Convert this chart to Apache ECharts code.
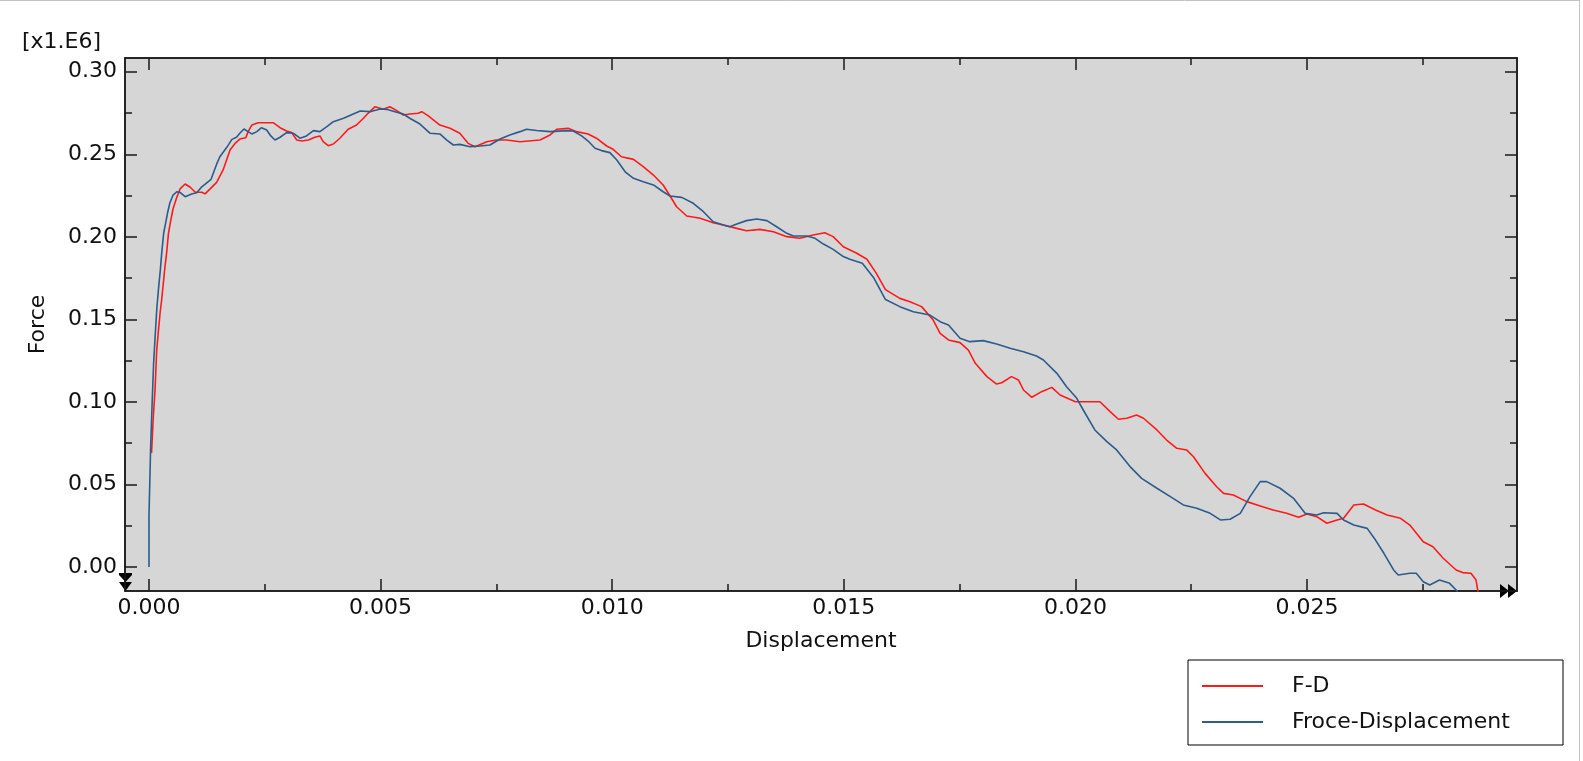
<!DOCTYPE html>
<html>
<head>
<meta charset="utf-8">
<script src="https://cdn.jsdelivr.net/npm/echarts@6/dist/echarts.min.js"></script>
<style>
html,body{margin:0;padding:0;background:#fff;}
#chart{width:1583px;height:761px;}
</style>
</head>
<body>
<div id="chart"></div>
<script>
// ---- data (force in units of 1.E6) ----
const seriesNames = ['F-D', 'Froce-Displacement'];

const fdX = [0.000055,0.000093,0.00013,0.000166,0.0002,0.00024,0.000274,0.00031,0.000345,0.00038,0.00042,0.00047,0.00052,0.0006,0.00067,0.00078,0.00089,0.001,0.00114,0.00121,0.00132,0.00146,0.0016,0.00175,0.00186,0.00196,0.00209,0.00214,0.00222,0.00236,0.00268,0.00283,0.00297,0.00308,0.00319,0.0033,0.00344,0.00358,0.00369,0.00376,0.00387,0.00398,0.00412,0.0043,0.00448,0.00463,0.00473,0.00488,0.00506,0.0052,0.00535,0.00549,0.00563,0.00581,0.00589,0.00603,0.00628,0.0065,0.00671,0.00689,0.00704,0.00729,0.0075,0.00772,0.00801,0.00844,0.00866,0.0088,0.00905,0.00923,0.00948,0.00966,0.00988,0.01002,0.0102,0.01046,0.01067,0.01089,0.0111,0.01125,0.01139,0.01161,0.0119,0.01218,0.0124,0.01269,0.0129,0.01319,0.01348,0.01377,0.01405,0.01434,0.01459,0.01477,0.01499,0.01528,0.0155,0.0157,0.0159,0.01621,0.01643,0.01668,0.01693,0.01708,0.01726,0.01751,0.01769,0.01784,0.01809,0.0183,0.01841,0.01862,0.01877,0.01888,0.01906,0.01927,0.01949,0.01967,0.02,0.02053,0.02075,0.02093,0.02111,0.02132,0.02147,0.02176,0.02197,0.02219,0.0224,0.02255,0.0228,0.02305,0.0232,0.02341,0.0237,0.02399,0.02427,0.02456,0.02482,0.025,0.02521,0.02543,0.02565,0.02579,0.02601,0.02622,0.02648,0.02673,0.02702,0.02722,0.02751,0.02772,0.02794,0.02822,0.02836,0.02854,0.02865,0.02875];
const fdY = [0.069,0.091,0.107,0.131,0.142,0.154,0.162,0.172,0.182,0.190,0.202,0.210,0.217,0.224,0.229,0.232,0.230,0.227,0.227,0.226,0.229,0.233,0.2405,0.2526,0.2566,0.2592,0.260,0.2637,0.2677,0.2691,0.2691,0.2661,0.2641,0.2631,0.2586,0.258,0.2586,0.2603,0.2611,0.2576,0.2552,0.2562,0.2597,0.2651,0.2677,0.2718,0.2748,0.2788,0.2772,0.2788,0.2764,0.2738,0.2744,0.2748,0.2758,0.2732,0.2677,0.2657,0.2627,0.2566,0.2546,0.2576,0.2586,0.2586,0.2576,0.2586,0.2617,0.2651,0.2657,0.2637,0.2623,0.2597,0.255,0.253,0.2485,0.2469,0.2425,0.2374,0.2314,0.2247,0.2182,0.2126,0.2112,0.2085,0.2071,0.2051,0.2037,0.2045,0.2031,0.2001,0.1991,0.2011,0.2025,0.2001,0.194,0.190,0.1864,0.178,0.168,0.1627,0.1607,0.1577,0.1496,0.1415,0.1375,0.1359,0.1314,0.1234,0.1153,0.1108,0.1116,0.1153,0.1133,0.1072,0.1028,0.1062,0.1088,0.1042,0.1001,0.1001,0.0941,0.0895,0.0901,0.0921,0.0901,0.083,0.0769,0.0719,0.0709,0.0668,0.0567,0.0486,0.0446,0.0436,0.0396,0.037,0.0345,0.0325,0.0301,0.0321,0.0305,0.0265,0.0285,0.0295,0.0376,0.0382,0.0345,0.0315,0.0295,0.0254,0.0153,0.0123,0.0053,-0.0018,-0.0034,-0.0038,-0.0079,-0.025];

const fcX = [0,0,0.000036,0.000036,0.00007,0.0001,0.000137,0.00017,0.00021,0.000245,0.000274,0.000317,0.00036,0.0004,0.00045,0.00052,0.0006,0.00067,0.00078,0.00092,0.00103,0.00114,0.00134,0.00146,0.00153,0.00168,0.00179,0.00189,0.00196,0.00205,0.00214,0.00222,0.00233,0.00243,0.00254,0.00263,0.00272,0.00283,0.00297,0.00312,0.00326,0.0034,0.00355,0.00369,0.00384,0.00398,0.0042,0.00441,0.00456,0.00477,0.00499,0.00513,0.00531,0.00549,0.00563,0.00585,0.00607,0.00628,0.00643,0.00657,0.00671,0.00693,0.00715,0.00736,0.00758,0.00779,0.00801,0.00815,0.00837,0.00866,0.00902,0.00916,0.00934,0.00948,0.00963,0.00977,0.00995,0.0101,0.01028,0.01046,0.01067,0.01089,0.0111,0.01125,0.0115,0.01175,0.01197,0.01218,0.0124,0.01254,0.01269,0.0129,0.01312,0.01334,0.01355,0.01377,0.01391,0.0142,0.01438,0.01456,0.01477,0.01499,0.01513,0.0154,0.01565,0.0159,0.01621,0.0165,0.01686,0.01708,0.01726,0.01751,0.01772,0.01801,0.0183,0.01859,0.01888,0.01916,0.01931,0.0196,0.01981,0.02003,0.02017,0.02042,0.02068,0.02089,0.02118,0.02143,0.02176,0.02205,0.02233,0.02262,0.02291,0.02313,0.02334,0.02356,0.02377,0.02399,0.02413,0.02442,0.02471,0.02496,0.02521,0.02536,0.02565,0.02579,0.02601,0.0263,0.02648,0.02666,0.02687,0.02697,0.02722,0.02736,0.02751,0.02765,0.02786,0.02808,0.02824,0.0283];
const fcY = [0,0.0315,0.0315,0.073,0.101,0.1235,0.1417,0.157,0.170,0.180,0.190,0.2023,0.2084,0.2144,0.2205,0.2253,0.2273,0.2269,0.2243,0.2259,0.2267,0.2303,0.2348,0.244,0.2485,0.2542,0.259,0.2603,0.2627,0.2653,0.2637,0.2623,0.2637,0.2661,0.2647,0.2611,0.2586,0.2603,0.2631,0.2627,0.2597,0.2611,0.2643,0.2637,0.2667,0.2697,0.2718,0.2744,0.2762,0.2758,0.2774,0.2772,0.2758,0.2744,0.2718,0.2683,0.2627,0.2623,0.2586,0.2556,0.256,0.2546,0.255,0.2556,0.2592,0.2617,0.2637,0.2651,0.2644,0.2637,0.2643,0.2641,0.2611,0.258,0.2536,0.2522,0.251,0.2465,0.2394,0.2354,0.2334,0.2314,0.2273,0.2247,0.2239,0.2203,0.2152,0.2091,0.2071,0.2061,0.2077,0.2098,0.2108,0.2098,0.2061,0.2021,0.2005,0.2005,0.1991,0.1956,0.1924,0.188,0.1864,0.184,0.175,0.162,0.1577,0.1546,0.1526,0.1486,0.1466,0.1385,0.1365,0.1371,0.1351,0.1325,0.1304,0.1278,0.1254,0.1173,0.1092,0.1022,0.0951,0.083,0.0759,0.0709,0.0608,0.0537,0.0477,0.0426,0.0376,0.0356,0.0325,0.0285,0.0289,0.0325,0.0426,0.0517,0.0517,0.0477,0.0416,0.0325,0.0315,0.0329,0.0325,0.0285,0.0254,0.0234,0.0163,0.0083,-0.0018,-0.0048,-0.0038,-0.0038,-0.0089,-0.0109,-0.0079,-0.0099,-0.0145,-0.02];

// ---- tick values ----
const xMajorTicks = [0, 0.005, 0.010, 0.015, 0.020, 0.025];
const xMinorTicks = [0.0025, 0.0075, 0.0125, 0.0175, 0.0225, 0.0275];
const yMajorTicks = [0, 0.05, 0.10, 0.15, 0.20, 0.25, 0.30];
const yMinorTicks = [0.025, 0.075, 0.125, 0.175, 0.225, 0.275];

const X_MIN = -0.000518, X_MAX = 0.029534;
const Y_MIN = -0.014537, Y_MAX = 0.3083;
const FONT = 'DejaVu Sans';
const AX = '#1a1a1a';

function pairs(xs, ys){ return xs.map((x,i)=>[x, ys[i]]); }

function xAxisDef(pos, ticks, len, main){
  return {
    type:'value', position:pos, min:X_MIN, max:X_MAX,
    splitLine:{show:false},
    axisLine:{show:main, onZero:false, lineStyle:{color:AX, width:1.5}},
    axisTick:{show:true, inside:true, length:len, customValues:ticks, lineStyle:{color:AX, width:1.5}},
    axisLabel:{show:main && pos==='bottom', customValues:ticks, margin:6,
      formatter:v=>v.toFixed(3), fontFamily:FONT, fontSize:22, color:'#111'},
    name: (main && pos==='bottom') ? 'Displacement' : '',
    nameLocation:'middle', nameGap:39,
    nameTextStyle:{fontFamily:FONT, fontSize:22, color:'#111'}
  };
}
function yAxisDef(pos, ticks, len, main){
  return {
    type:'value', position:pos, min:Y_MIN, max:Y_MAX,
    splitLine:{show:false},
    axisLine:{show:main, onZero:false, lineStyle:{color:AX, width:1.5}},
    axisTick:{show:true, inside:true, length:len, customValues:ticks, lineStyle:{color:AX, width:1.5}},
    axisLabel:{show:main && pos==='left', customValues:ticks, margin:8,
      formatter:v=>v.toFixed(2), fontFamily:FONT, fontSize:22, color:'#111'},
    name: (main && pos==='left') ? 'Force' : '',
    nameLocation:'middle', nameGap:76,
    nameTextStyle:{fontFamily:FONT, fontSize:22, color:'#111'}
  };
}

const chart = echarts.init(document.getElementById('chart'));
chart.setOption({
  animation:false,
  backgroundColor:'#ffffff',
  grid:{left:125, top:58, width:1392, height:533, show:true, backgroundColor:'#d6d6d6', borderColor:AX, borderWidth:1.5},
  xAxis:[
    xAxisDef('bottom', xMajorTicks, 12, true),
    xAxisDef('bottom', xMinorTicks, 7, false),
    xAxisDef('top', xMajorTicks, 12, true),
    xAxisDef('top', xMinorTicks, 7, false)
  ],
  yAxis:[
    yAxisDef('left', yMajorTicks, 12, true),
    yAxisDef('left', yMinorTicks, 7, false),
    yAxisDef('right', yMajorTicks, 12, true),
    yAxisDef('right', yMinorTicks, 7, false)
  ],
  legend:{
    orient:'vertical', right:20, top:660,
    data:seriesNames, selectedMode:false,
    icon:'rect', itemWidth:61, itemHeight:2, itemGap:14,
    borderColor:'#000', borderWidth:1, padding:[15,13,12,14], backgroundColor:'#fff',
    textStyle:{fontFamily:FONT, fontSize:22, color:'#111', lineHeight:22, width:258, padding:[0,0,0,24]}
  },
  graphic:[
    {type:'line', shape:{x1:0, y1:0.5, x2:1579.5, y2:0.5}, style:{stroke:'#c4c4c4', lineWidth:1}},
    {type:'line', shape:{x1:1579.5, y1:0, x2:1579.5, y2:761}, style:{stroke:'#c4c4c4', lineWidth:1}},
    {type:'text', left:22, top:31, style:{text:'[x1.E6]', fontFamily:FONT, fontSize:22, fill:'#111'}},
    {type:'polygon', shape:{points:[[1500,584],[1509,591],[1500,598]]}, style:{fill:'#000'}},
    {type:'polygon', shape:{points:[[1508,584],[1517,591],[1508,598]]}, style:{fill:'#000'}},
    {type:'rect', shape:{x:119,y:573,width:13,height:2}, style:{fill:'#000'}},
    {type:'polygon', shape:{points:[[119,575],[132,575],[125.5,582]]}, style:{fill:'#000'}},
    {type:'polygon', shape:{points:[[119,582],[132,582],[125.5,591]]}, style:{fill:'#000'}}
  ],
  series:[
    {name:seriesNames[0], type:'line', xAxisIndex:0, yAxisIndex:0, data:pairs(fdX, fdY),
     showSymbol:false, symbol:'none', clip:true, lineStyle:{color:'#ff1a1a', width:1.6}, itemStyle:{color:'#ff1a1a'}},
    {name:seriesNames[1], type:'line', xAxisIndex:0, yAxisIndex:0, data:pairs(fcX, fcY),
     showSymbol:false, symbol:'none', clip:true, lineStyle:{color:'#2c5b8c', width:1.6}, itemStyle:{color:'#2c5b8c'}}
  ]
});
</script>
</body>
</html>
